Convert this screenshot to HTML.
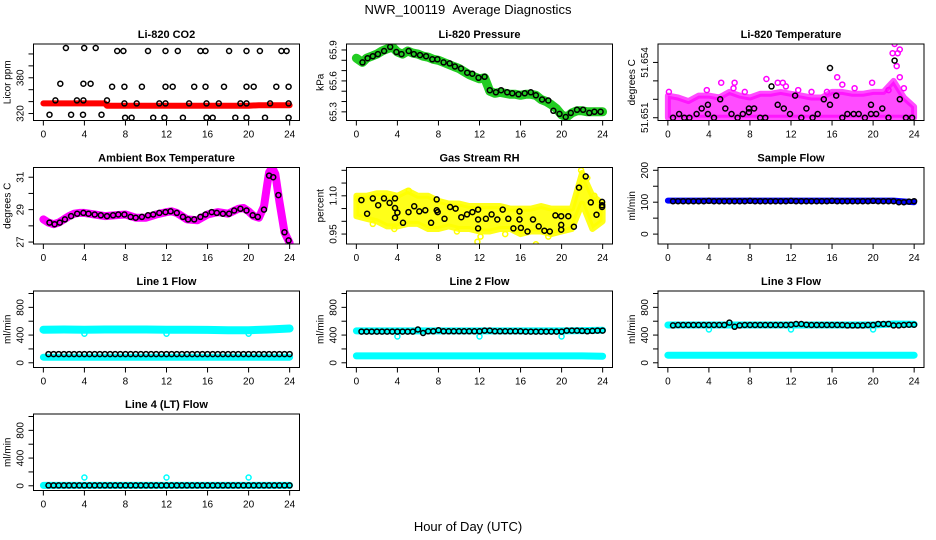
<!DOCTYPE html>
<html><head><meta charset="utf-8"><style>
html,body{margin:0;padding:0;background:#fff;}
svg{display:block;font-family:"Liberation Sans",sans-serif;}
</style></head><body>
<svg id="chart" width="936" height="540" viewBox="0 0 936 540">
<rect width="936" height="540" fill="#fff"/>
<text x="468" y="14" text-anchor="middle" font-size="13">NWR_100119 &#160;Average Diagnostics</text>
<text x="468" y="531" text-anchor="middle" font-size="13">Hour of Day (UTC)</text>
</svg>
<script>
// ---- shared categories ----
const xTicks = [0,4,8,12,16,20,24];
const ptHours = [0.5,1,1.5,2,2.5,3,3.5,4,4.5,5,5.5,6,6.5,7,7.5,8,8.5,9,9.5,10,10.5,11,11.5,12,12.5,13,13.5,14,14.5,15,15.5,16,16.5,17,17.5,18,18.5,19,19.5,20,20.5,21,21.5,22,22.5,23,23.5,24];
const bandHours = [0,2,4,6,8,10,12,14,16,18,20,22,24];
// ---- CO2 ----
const co2BandH = [0,1,2,3,4,5,6,6.2,8,10,12,14,16,18,20,21,22,24];
const co2BandV = [337,337,337,337,337,337,337,333,333,333,333,333,333,333,333,334,334,334];
const co2PtH = [2.2,3.98,5.1,7.2,7.8,10.2,11.9,13.1,15.3,15.8,18.1,19.8,21.1,23.2,23.7,1.65,3.9,4.6,6.7,7.9,9.6,11.9,12.6,14.7,15.8,17.6,19.8,20.5,22.7,23.9,1.17,3.27,3.9,6.2,7.9,9.1,11.3,11.9,14.2,15.9,17.1,19.2,19.8,22.1,23.9,0.6,2.7,3.86,5.67,7.97,8.6,10.7,11.8,13.6,15.9,16.5,18.7,19.8,21.6,23.9];
const co2PtV = [430,430,430,425,425,425,425,425,425,425,425,425,425,425,425,370,370,370,365,365,365,365,365,365,365,365,365,365,365,365,342,342,342,342,337,337,337,337,337,337,337,337,337,337,337,318,318,318,318,313,313,313,313,313,313,313,313,313,313,313];
// ---- Pressure ----
const presH = [0,0.6,1,1.5,2,2.5,3,3.5,4,4.5,5,5.5,6,6.5,7,7.5,8,8.5,9,9.5,10,10.5,11,11.5,12,12.5,13,13.5,14,14.5,15,15.5,16,16.5,17,17.5,18,18.5,19,19.5,20,20.5,21,21.5,22,22.5,23,23.5,24];
const presV = [65.82,65.78,65.82,65.84,65.86,65.89,65.91,65.93,65.88,65.86,65.89,65.87,65.86,65.84,65.83,65.81,65.80,65.78,65.76,65.74,65.72,65.69,65.66,65.64,65.62,65.63,65.50,65.48,65.49,65.48,65.47,65.47,65.46,65.47,65.47,65.46,65.42,65.40,65.37,65.33,65.27,65.25,65.29,65.31,65.31,65.30,65.30,65.30,65.30];
const presPtH = [0.6,1.1,1.6,2.1,2.7,3.3,3.9,4.4,5.1,5.6,6.2,6.8,7.4,7.9,8.5,9.1,9.6,10.2,10.8,11.3,11.9,12.5,13.0,13.6,14.1,14.7,15.2,15.8,16.4,17.0,17.5,18.1,18.7,19.2,19.8,20.4,20.9,21.5,22.1,22.7,23.2,23.8];
const presPtV = [65.78,65.82,65.84,65.86,65.89,65.93,65.88,65.86,65.89,65.86,65.85,65.84,65.81,65.81,65.78,65.77,65.74,65.72,65.68,65.67,65.63,65.64,65.51,65.49,65.51,65.49,65.48,65.47,65.48,65.49,65.46,65.42,65.41,65.31,65.28,65.25,65.29,65.32,65.32,65.29,65.30,65.30];
// ---- Li-820 Temperature ----
const tempH = [0,1,2,3,4,5,6,7,8,9,10,11,12,13,14,15,16,17,18,19,20,21,22,23,24];
const tempLow = [51.6510,51.6510,51.6510,51.6510,51.6510,51.6510,51.6510,51.6510,51.6510,51.6510,51.6510,51.6510,51.6510,51.6510,51.6510,51.6510,51.6510,51.6510,51.6510,51.6510,51.6510,51.6510,51.6510,51.6510,51.6510];
const tempHigh = [51.6522,51.6521,51.6519,51.6522,51.6522,51.6521,51.6524,51.6522,51.6521,51.6523,51.6523,51.6524,51.6523,51.6522,51.6521,51.6521,51.6524,51.6524,51.6523,51.6523,51.6524,51.6524,51.6530,51.6521,51.6516];
const tempOutH = [5.2,6.5,9.6,10.7,11.2,16.5,17,19.9,22.1,22.4,21.9,22.6,22.3,22.6,23,6.4,12.7,18.2,21.5,11.5,14,3.8,0.1,7.5,15.5];
const tempOutV = [51.6529,51.6529,51.6531,51.6529,51.6529,51.6532,51.6528,51.6529,51.6550,51.6545,51.6545,51.6547,51.6538,51.6532,51.6526,51.6526,51.6525,51.6526,51.6525,51.6527,51.6524,51.6525,51.6524,51.6524,51.6524];
const tempPtH = [0.5,1.1,1.6,2.1,2.8,3.3,3.9,3.9,4.5,5.1,5.6,6.2,6.8,7.3,7.9,7.9,8.4,9.0,9.5,10.1,10.7,11.3,11.9,12.4,13.0,13.5,14.1,14.6,15.2,15.8,15.8,16.4,17.0,17.5,18.1,18.6,19.2,19.8,19.8,20.3,20.9,21.5,22.1,22.6,23.2,23.8];
const tempPtV = [51.6510,51.6512,51.6510,51.6510,51.6512,51.6515,51.6517,51.6512,51.6510,51.6520,51.6515,51.6512,51.6510,51.6512,51.6515,51.6513,51.6515,51.6510,51.6510,51.6527,51.6517,51.6515,51.6512,51.6522,51.6510,51.6515,51.6510,51.6512,51.6520,51.6537,51.6517,51.6522,51.6510,51.6512,51.6512,51.6512,51.6510,51.6517,51.6512,51.6512,51.6515,51.6510,51.6541,51.6520,51.6510,51.6510];
// ---- Ambient box temperature ----
const ambH = [0,0.5,1,1.5,2,2.5,3,3.5,4,5,6,7,8,9,10,11,12,12.5,13,14,15,16,17,18,19,19.5,20,20.5,21,21.5,21.8,22,22.3,22.6,23,23.5,24];
const ambV = [28.4,28.2,28.1,28.2,28.4,28.6,28.75,28.8,28.8,28.7,28.6,28.65,28.7,28.5,28.5,28.7,28.85,28.9,28.8,28.4,28.35,28.7,28.85,28.75,29.05,29.1,28.9,28.6,28.5,29.2,30.5,31.3,31.6,31.2,29.5,27.6,26.95];
const ambPtH = [0.6,1.1,1.6,2.1,2.7,3.3,3.9,4.4,5.0,5.6,6.2,6.8,7.3,7.9,8.5,9.0,9.6,10.2,10.7,11.3,11.9,12.4,13.0,13.6,14.1,14.7,15.3,15.8,16.4,16.9,17.5,18.1,18.6,19.2,19.8,20.4,20.9,21.5,22.0,22.4,22.9,23.5,23.9];
const ambPtV = [28.2,28.1,28.2,28.4,28.6,28.75,28.8,28.75,28.7,28.65,28.6,28.65,28.7,28.7,28.55,28.5,28.55,28.65,28.7,28.8,28.85,28.9,28.8,28.55,28.4,28.4,28.55,28.7,28.85,28.8,28.75,28.75,28.95,29.05,28.95,28.65,28.55,29.0,31.1,31.0,29.9,27.6,27.1];
// ---- Gas stream RH ----
const rhH = [0,1,2,3,4,5,6,7,8,9,10,11,12,13,14,15,16,17,18,19,20,21,22,23,24];
const rhLow = [1.02,1.01,1.00,0.98,0.98,0.99,0.99,0.97,0.97,0.98,0.97,0.97,0.96,0.96,0.97,0.97,0.95,0.96,0.96,0.95,0.96,0.97,1.07,0.97,1.00];
const rhHigh = [1.10,1.10,1.11,1.11,1.10,1.12,1.10,1.10,1.08,1.07,1.07,1.06,1.06,1.06,1.06,1.05,1.05,1.05,1.06,1.05,1.05,1.05,1.19,1.10,1.07];
const rhOutH = [1.6,3.7,5.1,11.8,12.1,17.5,18.7,23.2,22.5,21.9,0.1,9.8,14.5];
const rhOutV = [0.99,0.97,1.12,0.92,0.94,0.91,0.94,1.10,1.17,1.20,1.09,0.96,0.95];
const rhPtH = [0.49,1.05,1.6,2.13,2.69,3.24,3.77,3.77,3.77,4.0,4.55,5.08,5.64,6.13,6.72,7.28,7.83,7.83,7.93,8.59,9.14,9.67,10.23,10.78,11.31,11.86,11.86,11.86,12.62,13.18,13.73,14.26,14.81,15.3,15.9,15.9,16.03,16.68,17.21,17.77,18.32,18.85,19.4,19.96,19.96,19.96,20.65,21.2,21.7,22.35,22.85,23.4,23.95,23.95,23.95];
const rhPtV = [1.083,1.03,1.09,1.063,1.09,1.072,1.09,1.052,1.014,1.034,0.994,1.036,1.059,1.039,1.043,0.994,1.086,1.043,1.036,1.01,1.056,1.05,1.016,1.027,1.036,1.046,0.972,1.007,1.01,1.027,1.007,1.046,1.01,0.972,1.039,1.007,0.974,0.96,1.007,0.98,0.963,0.96,1.023,1.02,0.986,0.967,1.02,0.979,1.132,1.176,1.074,1.026,1.056,1.076,1.063];
// ---- Flows ----
const sampBand = [105,105,105,105,105,105,105,105,105,105,105,105,100];
const sampPts = [103,103,103,103,103,103,103,104,103,103,103,103,103,103,103,104,103,103,103,103,103,103,103,104,103,103,103,103,103,103,103,104,103,103,103,103,103,103,103,104,103,103,103,103,100,100,102,103];
const line1Hi = [478,480,478,480,480,480,478,478,475,470,470,480,495];
const line1Lo = [80,80,80,80,80,80,80,80,80,80,80,80,80];
const line1Pts = [125,125,125,125,125,125,125,125,125,125,125,125,125,125,125,125,125,125,125,125,125,125,125,125,125,125,125,125,125,125,125,125,125,125,125,125,125,125,125,125,125,125,125,125,125,125,125,125];
const line2Hi = [460,460,460,460,460,460,460,460,460,460,460,465,470];
const line2Lo = [100,100,100,100,100,100,100,100,100,100,100,100,95];
const line2Pts = [450,450,450,450,450,450,450,450,450,450,450,480,430,455,455,470,455,455,455,455,455,455,455,455,465,465,455,455,455,455,455,455,450,450,450,450,450,450,450,450,465,465,465,460,455,460,465,465];
const line3Hi = [545,545,545,545,545,545,545,545,545,545,545,560,555];
const line3Lo = [110,110,110,110,110,110,110,110,110,110,110,110,110];
const line3Pts = [540,545,545,545,545,545,545,545,545,545,545,580,520,540,545,545,545,545,545,545,545,545,545,550,560,560,550,545,545,545,545,545,545,545,540,540,540,540,545,545,560,560,560,540,540,545,550,550];
const line4Band = [5,5,5,5,5,5,5,5,5,5,5,5,5];
const line4Pts = [5,5,5,5,5,5,5,5,5,5,5,5,5,5,5,5,5,5,5,5,5,5,5,5,5,5,5,5,5,5,5,5,5,5,5,5,5,5,5,5,5,5,5,5,5,5,5,5];
const dipHours = [4,12,20];
const line1Dip = [420,420,420];
const line2Dip = [380,380,380];
const line3Dip = [480,480,480];
const line4Dip = [120,120,120];

const NS = "http://www.w3.org/2000/svg";
const svg = document.getElementById('chart');
const colX = [33.5, 346.5, 658], rowY = [44, 167.5, 291, 414], PW = 266, PH = 76.5;
function mk(tag, attrs, parent, txt){
  const e = document.createElementNS(NS, tag);
  for (const k in attrs) e.setAttribute(k, attrs[k]);
  if (txt !== undefined) e.textContent = txt;
  (parent || svg).appendChild(e);
  return e;
}
function panel(c, r, name, title, ylab, ymin, ymax, ticks, labels){
  const L = colX[c], T = rowY[r];
  const g = mk('g', {});
  
  
  const sx = h => L + (h + 0.96) / 25.92 * PW;
  const sy = v => T + PH - (v - ymin) / (ymax - ymin) * PH;
  const t = mk('text', {x: L + PW/2, y: T - 6, 'text-anchor': 'middle', 'font-size': 11, 'font-weight': 'bold'}, g, title);
  
  
  const yl = mk('text', {transform: `translate(${L-23},${T+PH/2}) rotate(-90)`, 'text-anchor': 'middle', 'font-size': 10}, g, ylab);
  
  
  const xa = mk('g', {stroke: '#000', 'stroke-width': 1}, g);
  
  
  mk('line', {x1: sx(xTicks[0]), x2: sx(xTicks[xTicks.length-1]), y1: T+PH, y2: T+PH}, xa);
  xTicks.forEach(h => {
    mk('line', {x1: sx(h), x2: sx(h), y1: T+PH, y2: T+PH+5}, xa);
    const lb = mk('text', {x: sx(h), y: T+PH+17, 'text-anchor': 'middle', 'font-size': 10, stroke: 'none'}, xa, String(h));
    
    
  });
  const ya = mk('g', {stroke: '#000', 'stroke-width': 1}, g);
  
  
  mk('line', {x1: L, x2: L, y1: sy(ticks[0]), y2: sy(ticks[ticks.length-1])}, ya);
  ticks.forEach(v => mk('line', {x1: L-5, x2: L, y1: sy(v), y2: sy(v)}, ya));
  labels.forEach(s => {
    const lb = mk('text', {transform: `translate(${L-10},${sy(parseFloat(s))}) rotate(-90)`, 'text-anchor': 'middle', 'font-size': 10, stroke: 'none'}, ya, s);
    
    
  });
  const clip = mk('clipPath', {id: 'clip-' + name}, g);
  mk('rect', {x: L, y: T, width: PW, height: PH}, clip);
  const plot = mk('g', {'clip-path': `url(#clip-${name})`}, g);
  
  
  const box = mk('rect', {x: L, y: T, width: PW, height: PH, fill: 'none', stroke: '#000', 'stroke-width': 1}, g);
  
  
  return {sx, sy, plot};
}
function band(p, hs, vs, color, w, nm){
  const d = hs.map((h,i) => (i ? 'L' : 'M') + p.sx(h).toFixed(1) + ',' + p.sy(vs[i]).toFixed(1)).join('');
  const e = mk('path', {d, fill: 'none', stroke: color, 'stroke-width': w, 'stroke-linejoin': 'round', 'stroke-linecap': 'round'}, p.plot);
  
  
}
function range(p, hs, lo, hi, color, op, nm){
  let d = hs.map((h,i) => (i ? 'L' : 'M') + p.sx(h).toFixed(1) + ',' + p.sy(hi[i]).toFixed(1)).join('');
  for (let i = hs.length-1; i >= 0; i--) d += 'L' + p.sx(hs[i]).toFixed(1) + ',' + p.sy(lo[i]).toFixed(1);
  const e = mk('path', {d: d + 'Z', fill: color, 'fill-opacity': op, stroke: color, 'stroke-width': 6, 'stroke-opacity': op, 'stroke-linejoin': 'round'}, p.plot);
  
  
}
function pts(p, hs, vs, color, nm){
  const g = mk('g', {fill: 'none', stroke: color, 'stroke-width': 1.5}, p.plot);
  
  
  hs.forEach((h,i) => {
    const c = mk('circle', {cx: p.sx(h).toFixed(1), cy: p.sy(vs[i]).toFixed(1), r: 2.5}, g);
    
    
  });
}
const flowTicks = [0,200,400,600,800,1000], flowLabels = ['0','400','800'];

let p = panel(0,0,'co2','Li-820 CO2','Licor ppm',308.3,436.7,[320,340,360,380,400,420],['320','380']);
band(p, co2BandH, co2BandV, '#ff0000', 6, 'co2-minute-band');
pts(p, co2PtH, co2PtV, '#000', 'co2-average');

p = panel(1,0,'pressure','Li-820 Pressure','kPa',65.216,65.958,[65.3,65.4,65.5,65.6,65.7,65.8,65.9],['65.3','65.6','65.9']);
band(p, presH, presV, '#22cc22', 9, 'pressure-minute-band');
pts(p, presPtH, presPtV, '#000', 'pressure-average');

p = panel(2,0,'li820-temp','Li-820 Temperature','degrees C',51.65085,51.655,[51.651,51.652,51.653,51.654],['51.651','51.654']);
range(p, tempH, tempLow, tempHigh, '#ff00ff', 0.7, 'temp-minute-range');
pts(p, tempOutH, tempOutV, '#ff00ff', 'temp-minute-outliers');
pts(p, tempPtH, tempPtV, '#000', 'temp-average');

p = panel(0,1,'ambient','Ambient Box Temperature','degrees C',26.88,31.6,[27,28,29,30,31],['27','29','31']);
band(p, ambH, ambV, '#ff00ff', 8, 'ambient-minute-band');
pts(p, ambPtH, ambPtV, '#000', 'ambient-average');

p = panel(1,1,'rh','Gas Stream RH','percent',0.911,1.211,[0.95,1.0,1.05,1.1,1.15,1.2],['0.95','1.10']);
range(p, rhH, rhLow, rhHigh, '#ffff00', 0.9, 'rh-minute-range');
pts(p, rhOutH, rhOutV, '#ffff00', 'rh-minute-outliers');
pts(p, rhPtH, rhPtV, '#000', 'rh-average');

p = panel(2,1,'sample-flow','Sample Flow','ml/min',-31,208.7,[0,50,100,150,200],['0','100','200']);
band(p, bandHours, sampBand, '#0000ff', 6, 'sample-flow-band');
pts(p, ptHours, sampPts, '#000', 'sample-flow-average');

p = panel(0,2,'line1','Line 1 Flow','ml/min',-68,1036,flowTicks,flowLabels);
band(p, bandHours, line1Hi, '#00ffff', 8, 'line1-high-band');
band(p, bandHours, line1Lo, '#00ffff', 7, 'line1-low-band');
pts(p, dipHours, line1Dip, '#00ffff', 'line1-dips');
pts(p, ptHours, line1Pts, '#000', 'line1-average');

p = panel(1,2,'line2','Line 2 Flow','ml/min',-68,1036,flowTicks,flowLabels);
band(p, bandHours, line2Hi, '#00ffff', 7, 'line2-high-band');
band(p, bandHours, line2Lo, '#00ffff', 7, 'line2-low-band');
pts(p, dipHours, line2Dip, '#00ffff', 'line2-dips');
pts(p, ptHours, line2Pts, '#000', 'line2-average');

p = panel(2,2,'line3','Line 3 Flow','ml/min',-68,1036,flowTicks,flowLabels);
band(p, bandHours, line3Hi, '#00ffff', 7, 'line3-high-band');
band(p, bandHours, line3Lo, '#00ffff', 7, 'line3-low-band');
pts(p, dipHours, line3Dip, '#00ffff', 'line3-dips');
pts(p, ptHours, line3Pts, '#000', 'line3-average');

p = panel(0,3,'line4','Line 4 (LT) Flow','ml/min',-68,1036,flowTicks,flowLabels);
band(p, bandHours, line4Band, '#00ffff', 7, 'line4-band');
pts(p, dipHours, line4Dip, '#00ffff', 'line4-spikes');
pts(p, ptHours, line4Pts, '#000', 'line4-average');
</script>
</body></html>
